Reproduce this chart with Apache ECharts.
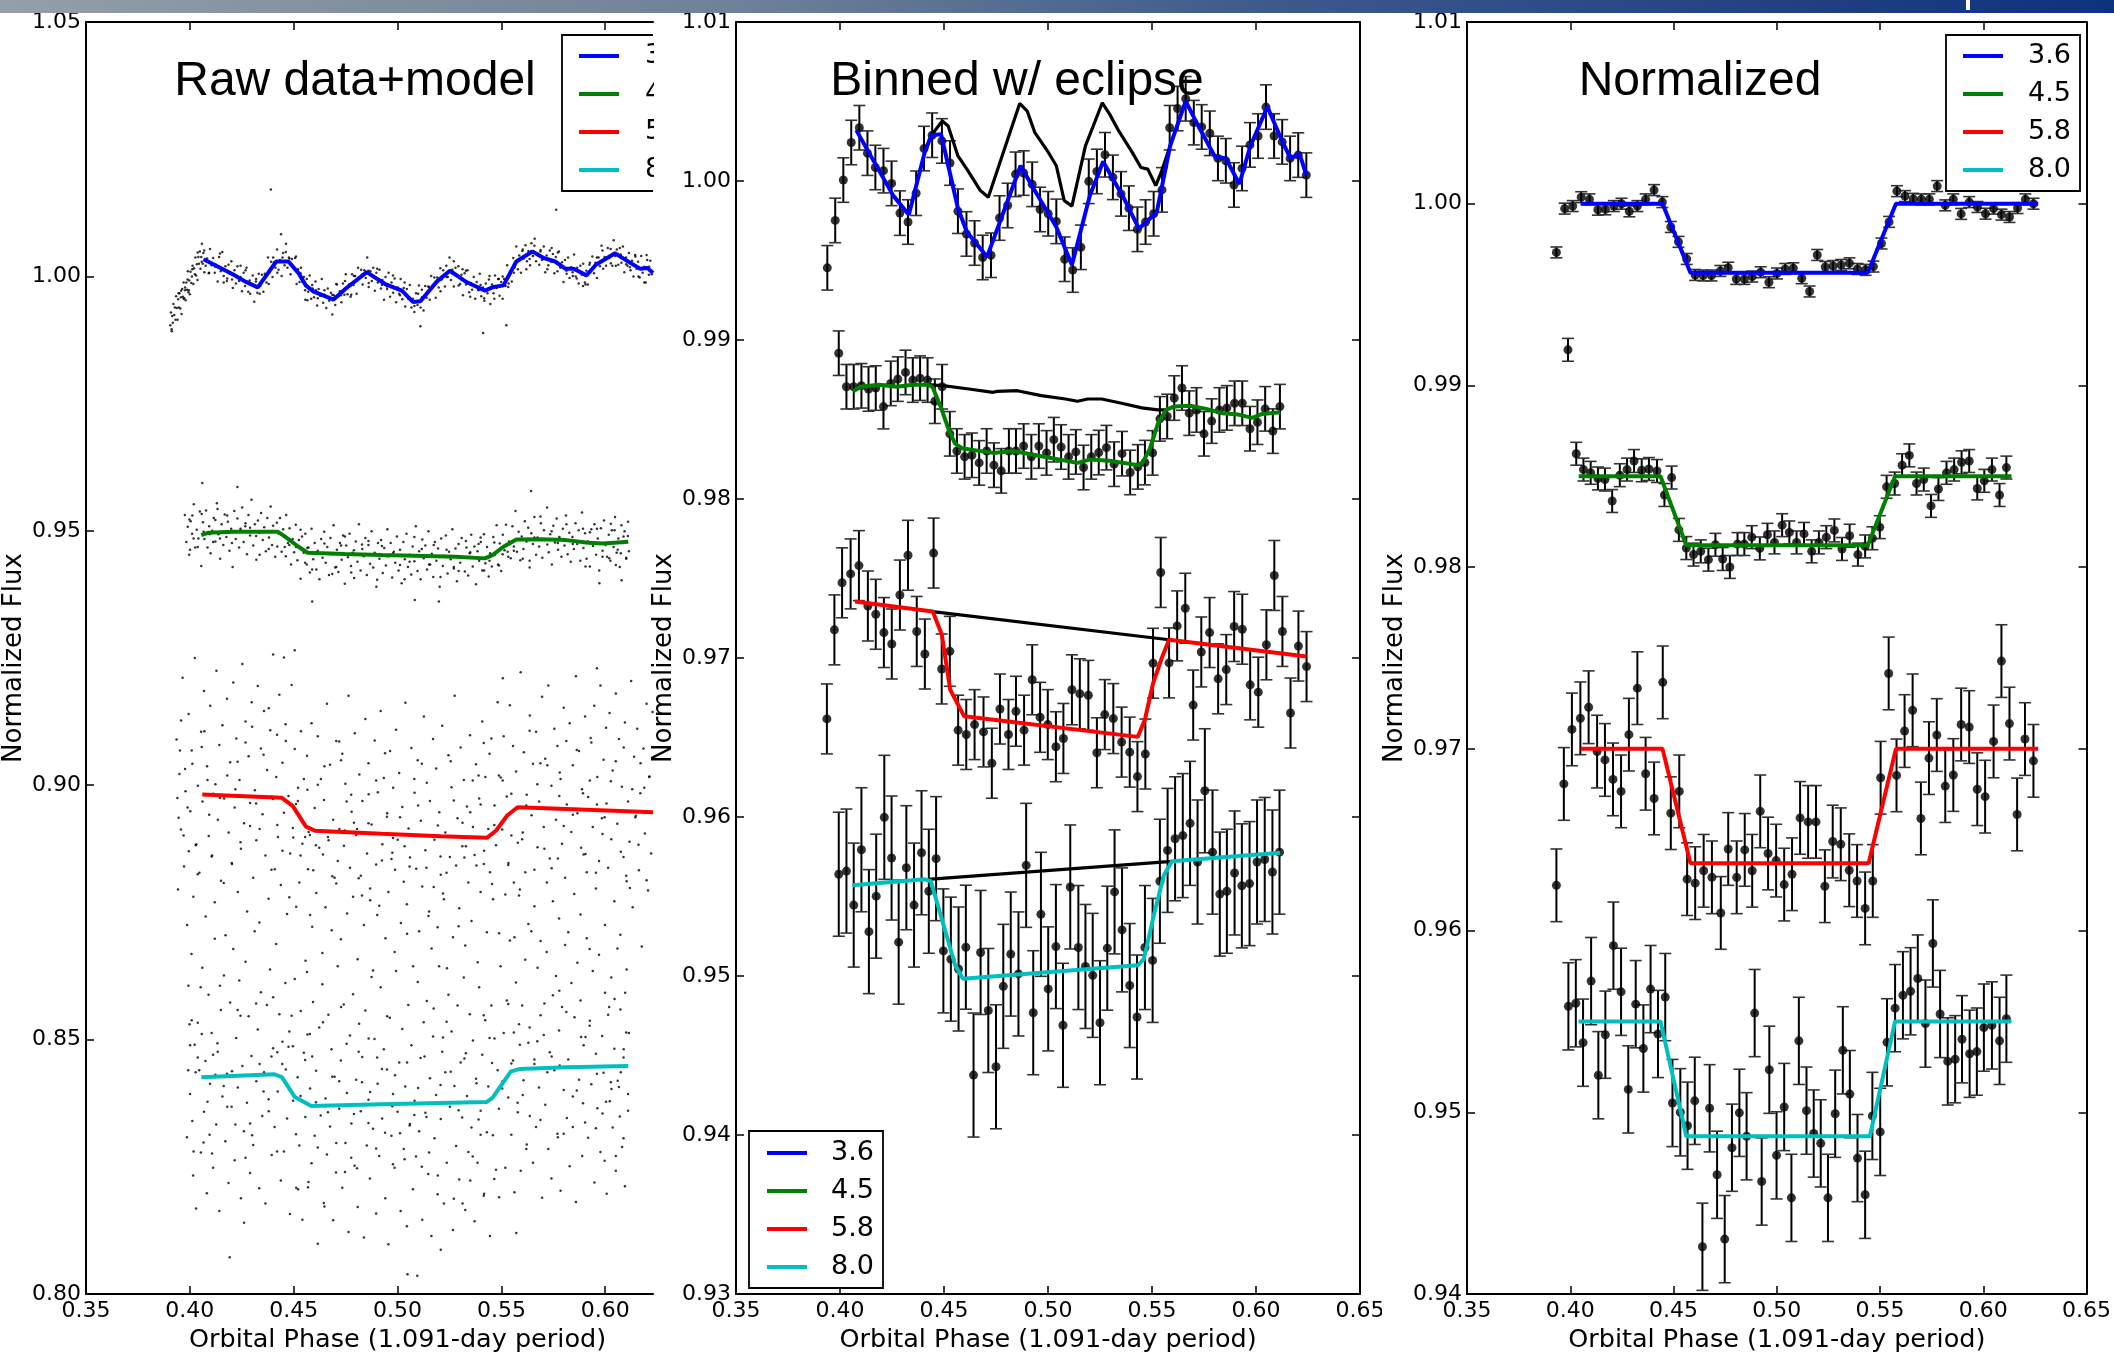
<!DOCTYPE html>
<html><head><meta charset="utf-8">
<script src="https://cdn.jsdelivr.net/npm/echarts@6/dist/echarts.min.js"></script>
<style>html,body{margin:0;padding:0;background:#fff}#c{width:2114px;height:1358px}</style>
</head><body><div id="c"></div>
<script>
// ---------- tick labels ----------
const xTickVals = [0.35, 0.40, 0.45, 0.50, 0.55, 0.60, 0.65];
const yTicksRaw = [0.80, 0.85, 0.90, 0.95, 1.00, 1.05];
const yTicksBinned = [0.93, 0.94, 0.95, 0.96, 0.97, 0.98, 0.99, 1.00, 1.01];
const yTicksNorm = [0.94, 0.95, 0.96, 0.97, 0.98, 0.99, 1.00, 1.01];
const bandNames = ['3.6', '4.5', '5.8', '8.0'];
const titles = ['Raw data+model', 'Binned w/ eclipse', 'Normalized'];

// ---------- panel 1: raw photometry, pairs of (phase x1e4, flux x1e4) ----------
const raw36 = [3906,9904,3909,9929,3912,9896,3915,9922,3918,9909,3921,9946,3925,9924,3928,9939,3931,9915,3934,9961,3937,9938,3941,9915,3944,9955,3947,9939,3950,9967,3954,9937,3957,9959,3960,9926,3963,9975,3967,9960,3970,9988,3973,9957,3977,9978,3980,9953,3983,9988,3987,9974,3990,10010,3993,9969,3997,9992,4000,9965,4003,10009,4007,9987,4010,10000,4013,10021,4017,9985,4020,10016,4024,10004,4027,10037,4030,10002,4034,10024,4037,9993,4041,10038,4044,10025,4048,10049,4051,10015,4055,10038,4058,10064,4062,10025,4065,10046,
4069,10051,4076,10021,4083,10035,4091,10006,4097,10054,4105,10022,4112,10036,4120,10007,4126,10023,4134,9990,4141,10038,4149,10010,4156,10048,4163,10001,4171,10020,4178,9991,4186,10023,4192,10005,4200,10030,4207,9977,4215,10012,4222,9986,4229,10020,4237,9991,4244,9999,4251,9971,4259,10007,4266,9981,4273,10017,4281,9970,4288,9992,4296,9984,4303,10002,4310,9950,4318,9990,4325,9968,4332,10005,4339,9981,4347,10003,4354,9970,4361,10005,4369,9988,4376,10037,4383,10008,4391,10029,4398,9999,4405,10028,4412,10017,4420,10053,4427,10013,4434,10032,4442,10001,4449,10046,4456,10022,4463,10064,4470,10017,4477,10037,4485,10004,4492,10034,4499,10016,4507,10036,4514,9985,4521,10014,4528,9989,4535,10017,4542,9989,4549,9999,4556,9954,4563,9995,4570,9970,4577,10002,4584,9956,4591,9976,4598,9959,4605,9990,4613,9943,4620,9975,4627,9962,4635,9995,4642,9948,4649,9964,4657,9938,4664,9976,4671,9952,4679,9968,4686,9925,4693,9963,4700,9944,4708,9984,4715,9961,4722,9971,4730,9949,4737,9986,4744,9964,4751,10004,4759,9965,4766,9984,4774,9960,4781,10004,4788,9983,4796,10001,4803,9966,4810,10017,4818,9997,4825,10013,4832,9984,4840,10012,4847,9997,4854,10037,4861,9987,4869,10010,4876,9991,4883,10017,4891,9972,4898,10007,4905,9988,4913,10013,4920,9976,4927,9993,4935,9954,4942,9999,4949,9980,4957,10007,4964,9960,4971,9988,4979,9968,4986,9996,4993,9949,5001,9978,5008,9966,5015,9995,5023,9955,5030,9977,5037,9941,5045,9975,5052,9956,5059,9983,5067,9939,5074,9956,5081,9930,5089,9967,5096,9944,5103,9982,5111,9939,5118,9959,5125,9933,5133,9981,5140,9958,5147,9980,5155,9954,5162,10001,5169,9978,5177,9998,5184,9958,5191,9998,5198,9978,5206,10016,5213,9994,5220,10012,5228,9980,5235,10021,5242,9999,5250,10037,5257,9993,5264,10013,5271,9980,5279,10017,5286,10001,5293,10020,5301,9985,5308,10003,5315,9963,5323,10006,5330,9984,5337,10012,5345,9969,5352,9987,5359,9974,5367,9999,5374,9956,5381,9989,5389,9974,5396,10005,5403,9961,5411,9978,5418,9952,5425,9986,5433,9967,5440,9994,5447,9946,5455,9984,5462,9967,5469,10002,5477,9977,5484,9995,5491,9962,5499,9989,5506,9956,5513,9995,5520,9981,5528,10022,5535,9986,5542,10010,5550,9990,5557,10036,5564,10018,5572,10059,5579,10014,5586,10041,5594,10007,5601,10050,5608,10035,5616,10061,5623,10030,5630,10050,5638,10022,5645,10065,5652,10040,5660,10074,5667,10030,5674,10045,5682,10023,5689,10052,5696,10032,5704,10059,5711,10008,5718,10041,5726,10022,5733,10051,5740,10029,5748,10044,5755,10006,5762,10038,5770,10010,5777,10049,5784,10017,5792,10028,5799,9989,5806,10032,5814,10005,5821,10037,5828,9997,5836,10018,5843,10008,5850,10043,5858,10000,5865,10017,5872,9986,5880,10021,5887,10003,5894,10025,5902,9988,5909,10011,5916,9984,5924,10023,5931,10010,5938,10039,5946,10006,5953,10027,5960,9997,5968,10037,5975,10020,5982,10060,5990,10015,5997,10038,6004,10021,6012,10056,6019,10036,6026,10054,6034,10021,6041,10071,6048,10040,6056,10053,6063,10023,6070,10056,6078,10027,6085,10059,6092,10008,6100,10037,6107,10021,6114,10046,6122,10012,6129,10031,6136,10000,6144,10042,6151,10015,6158,10029,6166,9998,6173,10040,6180,10007,6188,10019,6195,9988,6202,10032,6210,10003,6217,10031,6224,10004,
4390,10171,5764,10131,5412,9889,5110,9902,4439,10083,5524,9904,3913,9892];
const raw36b = [4012,10014,5533,9979,4790,10001,6101,10024,4268,10012,5207,9971,3958,9972,5844,10001,4533,10006,5012,9963,4421,10007,5688,10049,4145,10045,5390,9973,4902,10015,6188,9988,4607,9973,5271,10030,3995,9973,5960,10037,5117,9974,4336,9966,5779,10025,4705,9985,6027,10026,4479,10035,5466,9956,4057,10029,5603,10053,4861,9979,4203,9994,5329,10011,3977,9973,5905,9984,4648,9973,5058,9955,6145,10039,4380,9985,5742,10056,4950,9975,5488,9995,4093,10007,5152,9979,4566,9953,6075,10043,4747,9991,5636,10034,4244,10021,5417,9957,4829,10003,5893,9981,4462,10048,5236,9999,3946,9967,5721,10014,4589,9983,6212,10019,4978,10002,5560,10007,4123,10019,4319,9995,5081,9942,5987,10051,4686,9964,5350,9960,4038,10047,5813,10011,4511,10039,6160,10000,5174,9982,4777,9964,5659,10060,4180,9996,5443,10001,4925,9983,6051,10021,4401,10037,5294,9982,3970,9956,5926,10027,4555,9973,5400,9983,4070,10008,5772,10047,4860,10011,6119,10018,4290,9966,5506,10000,4728,9963,5034,9988,5620,10014,4446,10037,5099,9966,3989,9994,5863,9996,4616,9957,6199,10042,4988,9976,5313,10014,4163,9988];

const raw45 = [3976,9531,3983,9478,3990,9508,3997,9453,4004,9519,4011,9494,4019,9552,4026,9467,4033,9502,4041,9485,4048,9538,4055,9431,4063,9517,4070,9484,4078,9540,4085,9467,4093,9509,4100,9456,4108,9500,4115,9525,4123,9479,4130,9554,4138,9493,4146,9445,4153,9513,4161,9472,4168,9532,4176,9488,4183,9518,4191,9461,4199,9504,4206,9429,4214,9539,4221,9484,4229,9524,4237,9467,4244,9501,4252,9546,4259,9478,4267,9509,4275,9454,4282,9531,4290,9491,4297,9561,4305,9471,4313,9513,4320,9443,4328,9520,4335,9496,4343,9535,4351,9482,4358,9507,4366,9460,4373,9525,4381,9487,4389,9548,4396,9472,4404,9499,4411,9449,4419,9516,4427,9494,4434,9525,4442,9459,4449,9503,4457,9468,4464,9531,4472,9476,4480,9505,4487,9434,4495,9484,4502,9458,4510,9512,4518,9442,4525,9482,4533,9406,4540,9489,4548,9457,4556,9494,4563,9434,4571,9467,4578,9418,4586,9504,4594,9444,4601,9476,4609,9424,4616,9461,4624,9405,4632,9484,4639,9447,4647,9498,4654,9437,4662,9468,4670,9413,4677,9486,4685,9454,4692,9511,4700,9428,4708,9463,4715,9419,4723,9476,4731,9443,4738,9491,4746,9396,4753,9471,4761,9448,4769,9494,4776,9431,4784,9457,4791,9407,4799,9479,4807,9439,4814,9513,4822,9422,4830,9464,4837,9450,4845,9486,4852,9413,4860,9472,4868,9435,4875,9499,4883,9428,4890,9457,4898,9390,4906,9476,4913,9445,4921,9482,4929,9417,4936,9466,4944,9432,4951,9503,4959,9450,4967,9476,4974,9408,4982,9459,4989,9437,4997,9489,5005,9422,5012,9463,5020,9397,5028,9478,5035,9444,5043,9494,5050,9429,5058,9453,5066,9414,5073,9469,5081,9440,5088,9509,5096,9421,5104,9460,5111,9405,5119,9483,5126,9446,5134,9471,5142,9424,5149,9499,5157,9434,5165,9455,5172,9409,5180,9478,5187,9441,5195,9465,5203,9390,5210,9485,5218,9431,5225,9451,5233,9491,5241,9416,5248,9459,5256,9444,5264,9503,5271,9426,5279,9465,5286,9401,5294,9474,5302,9437,5309,9486,5317,9448,5324,9420,5332,9467,5340,9412,5347,9456,5355,9492,5362,9430,5370,9469,5378,9395,5385,9460,5393,9441,5401,9478,5408,9422,5416,9493,5423,9436,5431,9468,5439,9410,5446,9456,5454,9430,5461,9488,5469,9453,5477,9511,5484,9434,5492,9475,5499,9421,5507,9492,5515,9462,5522,9512,5530,9459,5537,9479,5545,9446,5553,9509,5560,9469,5568,9539,5575,9459,5583,9498,5591,9442,5598,9489,5606,9464,5613,9519,5621,9479,5629,9506,5636,9428,5644,9495,5652,9474,5659,9527,5667,9453,5674,9487,5682,9469,5690,9515,5697,9447,5705,9501,5712,9482,5720,9546,5728,9458,5735,9493,5743,9434,5750,9510,5758,9477,5766,9524,5773,9463,5781,9485,5789,9449,5796,9504,5804,9471,5811,9530,5819,9454,5827,9496,5834,9439,5842,9488,5849,9464,5857,9515,5865,9474,5872,9501,5880,9441,5888,9536,5895,9466,5903,9495,5910,9445,5918,9479,5926,9430,5933,9503,5941,9470,5948,9513,5956,9453,5964,9485,5971,9422,5979,9505,5987,9461,5994,9520,6002,9472,6009,9449,6017,9492,6025,9441,6032,9501,6040,9468,6047,9527,6055,9457,6063,9485,6070,9429,6078,9511,6086,9476,6093,9499,6101,9447,6109,9490,6114,9460,
4060,9594,4589,9361,5199,9361,5643,9578,4229,9586,6079,9403,5972,9397,5083,9364];
const raw45b = [4012,9530,5533,9449,4790,9462,6101,9445,4268,9515,5207,9409,3998,9522,5844,9474,4533,9502,5012,9433,4421,9469,5688,9528,4145,9485,5390,9474,4902,9404,6088,9489,4607,9458,5271,9429,4001,9463,5960,9504,5117,9464,4336,9453,5779,9488,4705,9429,6027,9514,4479,9472,5466,9477,4057,9533,5603,9445,4861,9454,4203,9476,5329,9480,4095,9493,5905,9430,4648,9475,5058,9439,6045,9501,4380,9464,5742,9499,4950,9450,5488,9432,4133,9543,5152,9434,4566,9466,6075,9456,4747,9489,5636,9441,4244,9504,5417,9422,4829,9473,5893,9504,4462,9450,5236,9463,4018,9485,5721,9473,4589,9424,6110,9518,4978,9456,5560,9461,4123,9521,4319,9490,5081,9488,5987,9449,4686,9415,5350,9458,4038,9468,5813,9513,4511,9468,6060,9463,5174,9472,4777,9418,5659,9487,4180,9530,5443,9441,4925,9470,6051,9433,4401,9510,5294,9421,4066,9498,5926,9497,4555,9437,5400,9487,4112,9478,5772,9476,4860,9480,6019,9446,4290,9506,5506,9454,4728,9471,5034,9405];

const raw58 = [3936,9090,3943,8795,3950,9022,3957,8913,3965,9211,3972,8840,3979,8988,3987,8725,3994,9140,4002,8949,4009,9068,4017,8781,4024,9250,4031,8884,4039,8999,4046,8828,4054,9105,4061,8968,4068,9185,4076,8742,4083,9037,4091,8900,4098,9156,4105,8860,4113,8983,4120,8770,4128,9225,4135,8932,4142,9079,4150,8812,4157,9118,4165,8974,4172,8705,4179,9170,4187,8907,4194,9045,4202,8847,4209,9202,4216,8956,4224,9092,4231,8790,4239,9010,4246,8875,4253,9238,4261,8925,4268,9125,4276,8752,4283,9057,4290,8965,4298,9163,4305,8818,4313,8990,4320,8892,4327,9195,4335,8730,4342,9072,4350,8943,4357,9146,4364,8862,4372,9030,4379,8777,4387,9108,4394,8978,4401,9257,4409,8835,4416,9016,4424,8898,4431,9178,4438,8804,4446,9044,4453,8946,4461,9120,4468,8747,4475,8979,4483,8866,4490,9197,4498,8897,4505,9071,4512,8761,4520,8969,4527,8809,4535,9106,4542,8885,4549,9012,4557,8655,4564,9058,4572,8908,4579,8745,4586,9122,4594,8833,4601,8955,4609,8788,4616,9096,4623,8877,4631,9012,4638,8670,4646,8971,4653,8760,4660,9160,4668,8892,4675,9040,4683,8715,4690,8932,4697,8818,4705,9087,4712,8851,4720,8914,4727,8697,4734,9062,4742,8881,4749,9003,4757,8748,4764,9176,4771,8838,4779,8948,4786,8781,4794,9102,4801,8902,4808,8658,4816,9021,4823,8822,4831,8969,4838,8725,4845,9130,4853,8866,4860,9043,4868,8797,4875,8923,4882,8636,4890,9088,4897,8844,4905,8986,4912,8763,4919,9146,4927,8884,4934,9014,4942,8699,4949,8938,4956,8790,4964,9067,4971,8855,4979,8995,4986,8672,4993,9109,5001,8893,5008,9024,5016,8729,5023,8957,5030,8810,5038,9162,5045,8766,5053,8915,5060,8858,5067,9073,5075,8644,5082,8985,5090,8836,5097,9049,5104,8713,5112,8930,5119,8801,5127,9135,5134,8872,5141,9005,5149,8743,5156,8969,5164,8679,5171,9091,5178,8893,5186,9033,5193,8721,5201,8947,5208,8824,5215,9117,5223,8776,5230,8907,5238,8640,5245,9059,5252,8859,5260,8996,5267,8701,5275,9176,5282,8842,5289,8935,5297,8758,5304,9074,5312,8880,5319,9010,5326,8685,5334,8958,5341,8809,5349,9098,5356,8733,5363,8918,5371,8863,5378,9041,5386,8652,5393,8974,5400,8790,5408,9125,5415,8845,5423,9016,5430,8711,5437,8914,5445,8829,5452,9092,5460,8776,5467,8960,5474,8882,5482,9163,5489,8709,5497,9015,5504,8913,5511,9096,5519,8785,5526,8978,5534,8847,5541,9157,5548,8901,5556,9077,5563,8701,5571,9027,5578,8954,5585,8783,5593,9222,5600,8894,5608,9065,5615,8829,5622,8981,5630,8727,5637,9137,5645,8941,5652,9042,5659,8762,5667,9105,5674,8878,5682,8968,5689,8694,5696,9174,5704,8918,5711,9052,5719,8809,5726,9196,5733,8856,5741,8999,5748,8772,5755,9111,5763,8932,5770,9077,5778,8738,5785,9012,5792,8885,5800,9152,5807,8818,5815,8962,5822,8711,5829,9122,5837,8908,5844,9039,5851,8786,5859,9214,5866,8945,5874,9067,5881,8746,5888,8992,5896,8864,5903,9135,5911,8829,5918,8977,5925,8678,5933,9084,5940,8918,5947,9156,5955,8797,5962,9016,5970,8851,5977,9196,5984,8935,5992,9050,5999,8725,6006,8964,6014,8838,6021,9142,6029,8894,6036,9029,6044,8772,6051,9180,6058,8924,6066,9091,6073,8706,6080,8997,6088,8859,6095,9123,6103,8811,6110,8968,6117,8889,6125,9205,6132,8760,6139,9056,6147,8940,6154,9111,6162,8833,6169,8984,6176,8683,6184,9072,6191,8905,6199,9160,6206,8793,6213,9017,6221,8866,6228,9144,
4453,9251,4505,9265,5507,9210,5960,9230];
const raw58b = [4012,9042,5533,8843,4790,8926,6101,8822,4268,9084,5207,8860,3958,9127,5844,8942,4533,8862,5012,8937,4421,8922,5688,9043,4145,8975,5390,9019,4902,8745,6188,8995,4607,8882,5271,8970,3995,8870,5960,8962,5117,9042,4336,8914,5779,8979,4705,8807,6027,9008,4479,8780,5466,8922,4057,9075,5603,8907,4861,8982,4203,8845,5329,8880,3977,9032,5905,8865,4648,9037,5058,8840,6145,8937,4380,9151,5742,8837,4950,8945,5488,9019,4093,8942,5152,8752,4566,8991,6075,8869,4747,8911,5636,9107,4244,8888,5417,8871,4829,8783,5893,8984,4462,9087,5236,8828,3946,8936,5721,9039,4589,8722,6212,9016,4978,8896,5560,8809,4123,9002,4319,8964,5081,9012,5987,8904,4686,8821,5350,8947,4038,8825,5813,9087,4511,8963,6160,8883,5174,8800,4777,8981,5659,8834,4180,9019,5443,9062,4925,8852,6051,9047,4401,8973,5294,8723,3970,8901,5926,9009,4555,8898,5400,8962,4070,9106,5772,8856,4860,8925,6119,8798,4290,8920,5506,9009,4728,9049,5034,8880,5620,8960,4446,8871,5099,8960,3989,8956,5863,9069,4616,9001,6199,8813,4988,8834,5313,8926,4163,8808,5256,9047,4641,8864,5955,8828,4355,9060,5548,8983,4813,8817,6004,9113,4107,8862,5380,8842,4897,9009,5707,8875,4219,8992,5046,8708,4521,8995,6089,9074,4665,8898,5455,8806,3952,9068,5800,8920,4940,9063,4393,8834,5194,8921,4755,8968,5579,8887,4028,8882,5930,9093,4578,8902,5362,9009,4868,8774,6130,8992,5139,8838,4300,9115,5673,9002,4496,8916,5997,8937,4719,9086,5219,8787,4085,9010,5781,9025,4569,8835,5415,9083,4975,8867,6170,9043,4230,9046,5589,8795,4805,8914,5322,8858,3940,8975,5884,8877,4420,9099];

const raw80 = [3986,8308,3993,8606,4001,8393,4008,8668,4016,8233,4023,8490,4030,8168,4038,8533,4045,8440,4053,8278,4060,8641,4068,8358,4075,8458,4082,8198,4090,8588,4097,8413,4105,8513,4112,8248,4120,8698,4127,8333,4134,8476,4142,8163,4149,8558,4157,8388,4164,8626,4171,8300,4179,8433,4186,8218,4194,8573,4201,8368,4209,8678,4216,8263,4223,8503,4231,8406,4238,8616,4246,8188,4253,8448,4260,8320,4268,8653,4275,8376,4283,8546,4290,8238,4297,8468,4305,8293,4312,8713,4320,8418,4327,8520,4334,8208,4342,8593,4349,8350,4357,8436,4364,8178,4371,8568,4379,8383,4386,8638,4394,8273,4401,8483,4408,8328,4416,8688,4423,8398,4431,8550,4438,8223,4445,8452,4453,8280,4460,8611,4468,8345,4475,8486,4482,8157,4490,8547,4497,8380,4505,8619,4512,8209,4519,8426,4527,8292,4534,8556,4542,8146,4549,8474,4556,8348,4564,8633,4571,8220,4579,8404,4586,8257,4593,8574,4601,8311,4608,8439,4616,8099,4623,8524,4630,8351,4638,8609,4645,8179,4653,8384,4660,8274,4667,8549,4675,8329,4682,8481,4690,8145,4697,8427,4704,8239,4712,8644,4719,8364,4727,8459,4734,8209,4741,8569,4749,8297,4756,8395,4764,8122,4771,8508,4778,8335,4786,8589,4793,8252,4801,8421,4808,8171,4815,8531,4823,8359,4830,8466,4838,8111,4845,8557,4852,8292,4860,8382,4867,8227,4875,8623,4882,8325,4889,8501,4897,8158,4904,8413,4912,8271,4919,8603,4926,8345,4934,8481,4941,8188,4949,8441,4956,8098,4963,8543,4971,8311,4978,8393,4986,8248,4993,8635,5000,8358,5008,8455,5015,8163,5023,8521,5030,8285,5037,8408,5045,8133,5052,8568,5060,8334,5067,8489,5074,8206,5082,8380,5089,8270,5097,8613,5104,8320,5111,8464,5119,8146,5126,8534,5134,8356,5141,8576,5148,8236,5156,8424,5163,8114,5171,8506,5178,8306,5186,8391,5193,8196,5200,8644,5208,8344,5215,8476,5223,8178,5230,8436,5237,8258,5245,8588,5252,8368,5260,8516,5267,8126,5274,8409,5282,8291,5289,8567,5297,8225,5304,8455,5311,8347,5319,8622,5326,8165,5334,8389,5341,8279,5348,8550,5356,8327,5363,8498,5371,8143,5378,8423,5385,8258,5393,8603,5400,8360,5408,8470,5415,8193,5422,8538,5430,8318,5437,8408,5445,8114,5452,8567,5459,8312,5467,8502,5474,8244,5482,8440,5489,8190,5496,8644,5504,8404,5511,8513,5519,8248,5526,8577,5533,8386,5541,8695,5548,8313,5556,8459,5563,8200,5570,8612,5578,8376,5585,8530,5593,8242,5600,8567,5607,8420,5615,8657,5622,8294,5630,8494,5637,8350,5644,8713,5652,8258,5659,8452,5667,8328,5674,8641,5681,8406,5689,8548,5696,8189,5704,8509,5711,8372,5718,8672,5726,8285,5733,8475,5741,8227,5748,8587,5755,8440,5763,8625,5770,8315,5778,8518,5785,8203,5792,8564,5800,8401,5807,8686,5815,8346,5822,8461,5829,8251,5837,8611,5844,8388,5852,8544,5859,8181,5866,8651,5874,8421,5881,8577,5889,8271,5896,8489,5903,8337,5911,8699,5918,8307,5925,8527,5933,8412,5940,8635,5948,8219,5955,8472,5962,8365,5970,8667,5977,8279,5985,8507,5992,8435,5999,8592,6007,8197,6014,8549,6022,8379,6029,8622,6036,8327,6044,8482,6051,8242,6059,8679,6066,8407,6073,8559,6081,8289,6088,8465,6095,8212,6103,8638,6110,8360,6114,8513,
5048,8039,5095,8036,4192,8072,4261,8140,5208,8087,5572,8120];
const raw80b = [4012,8340,5533,8570,4790,8354,6101,8514,4268,8268,5207,8411,3998,8530,5844,8328,4533,8389,5012,8316,4421,8475,5688,8342,4145,8606,5390,8343,4902,8465,6088,8306,4607,8377,5271,8187,4001,8489,5960,8433,5117,8250,4336,8452,5779,8596,4705,8297,6027,8416,4479,8516,5466,8226,4057,8511,5603,8391,4861,8502,4203,8438,5329,8473,4095,8313,5905,8505,4648,8172,5058,8331,6045,8580,4380,8359,5742,8467,4950,8546,5488,8364,4133,8493,5152,8278,4566,8510,6075,8436,4747,8240,5636,8524,4244,8547,5417,8197,4829,8416,5893,8375,4462,8441,5236,8535,4018,8280,5721,8436,4589,8467,6110,8393,4978,8255,5560,8514,4123,8431,4319,8571,5081,8352,5987,8355,4686,8427,5350,8223,4038,8465,5813,8554,4511,8314,6060,8419,5174,8561,4777,8268,5659,8461,4180,8368,5443,8503,4925,8442,6051,8271,4401,8583,5294,8361,4066,8298,5926,8537,4555,8460,5400,8313,4112,8470,5772,8308,4860,8336,6019,8564,4290,8335,5506,8418,4728,8564,5034,8265,5620,8285,4446,8496,5099,8405,4009,8538,5863,8400,4616,8288,6096,8592,4988,8430,5313,8178,4163,8409,5256,8437,4641,8534,5955,8326,4355,8398,5548,8453,4813,8476,6004,8378,4107,8276,5380,8414,4897,8286,5707,8571,4219,8333,5046,8455,4521,8206,6089,8481,4665,8357,5455,8454,4052,8603,5800,8315,4940,8317,4393,8467,5194,8233,4755,8492,5579,8357,4028,8436,6030,8403,4578,8511,5362,8270,4868,8397,5130,8467,5139,8348,4300,8312,5673,8497,4496,8487,5997,8262,4719,8418,5219,8504,4085,8378,5781,8449,4569,8210,5415,8548,4975,8369,6070,8349,4230,8558,5589,8490,4805,8247,5322,8463,3992,8440,5884,8505,4420,8280];

// panel 1 models
const modelRaw36 = [[0.4066,1.00339],[0.4211,1.00033],[0.4265,0.99902],[0.4327,0.99785],[0.4416,1.00293],[0.4475,1.00293],[0.4523,1.00065],[0.4558,0.99824],[0.4594,0.99707],[0.4692,0.99544],[0.4754,0.99772],[0.4852,1.00085],[0.4896,0.99967],[0.4941,0.9985],[0.5021,0.9972],[0.5074,0.99498],[0.5110,0.99511],[0.5190,0.99902],[0.5252,1.00111],[0.5332,0.99889],[0.5421,0.9972],[0.5457,0.99785],[0.5510,0.99824],[0.5572,1.00293],[0.5649,1.00489],[0.5706,1.00359],[0.5759,1.00293],[0.5809,1.0015],[0.5848,1.0015],[0.5910,1.0002],[0.5955,1.00228],[0.6047,1.00456],[0.6115,1.0028],[0.6168,1.0015],[0.6204,1.00163],[0.6230,1.00065]];
const modelRaw45 = [[0.4055,0.94915],[0.4087,0.9496],[0.4211,0.9498],[0.4425,0.9498],[0.4460,0.94882],[0.4523,0.94686],[0.4567,0.94569],[0.4745,0.94543],[0.4923,0.94523],[0.5136,0.94504],[0.5279,0.94491],[0.5421,0.94458],[0.5457,0.94523],[0.5510,0.94686],[0.5572,0.9483],[0.5688,0.94836],[0.5812,0.94817],[0.5919,0.94764],[0.5990,0.94751],[0.6111,0.94784]];
const modelRaw58 = [[0.4060,0.89817],[0.4443,0.89752],[0.4496,0.8959],[0.4559,0.89185],[0.4603,0.89104],[0.4923,0.89047],[0.5208,0.88998],[0.5430,0.88966],[0.5474,0.89104],[0.5528,0.89404],[0.5578,0.89566],[0.5812,0.89533],[0.6230,0.89469]];
const modelRaw80 = [[0.4055,0.84262],[0.4407,0.84319],[0.4443,0.84262],[0.4505,0.83873],[0.4585,0.83694],[0.4923,0.83727],[0.5430,0.83775],[0.5457,0.83856],[0.5546,0.84376],[0.5590,0.84424],[0.5812,0.84457],[0.6111,0.84481]];

// ---------- panel 2: binned with eclipse ----------
const binned36 = [[0.3939,0.99454],[0.3977,0.99752],[0.4016,1.00006],[0.4054,1.00242],[0.4093,1.00335],[0.4132,1.00175],[0.4170,1.00085],[0.4209,1.00065],[0.4248,0.99985],[0.4288,0.99798],[0.4327,0.99742],[0.4366,0.99923],[0.4404,1.00204],[0.4443,1.00288],[0.4490,1.00252],[0.4529,1.00113],[0.4567,0.9981],[0.4608,0.99667],[0.4647,0.9961],[0.4686,0.99519],[0.4726,0.99533],[0.4767,0.99767],[0.4806,0.99846],[0.4844,1.00042],[0.4883,1.0005],[0.4924,0.99979],[0.4962,0.99821],[0.5001,0.99794],[0.5040,0.99746],[0.5080,0.99508],[0.5119,0.9944],[0.5158,0.99583],[0.5196,0.99998],[0.5235,1.0006],[0.5274,1.00165],[0.5312,1.00023],[0.5351,0.99919],[0.5389,0.99829],[0.5430,0.99696],[0.5469,0.99742],[0.5508,0.99794],[0.5548,0.99944],[0.5585,1.00335],[0.5623,1.00456],[0.5662,1.00517],[0.5701,1.00367],[0.5739,1.0034],[0.5778,1.003],[0.5817,1.00142],[0.5855,1.00127],[0.5894,0.99975],[0.5933,1.00079],[0.5971,1.00227],[0.6010,1.00283],[0.6048,1.00465],[0.6087,1.00283],[0.6126,1.00246],[0.6164,1.00142],[0.6203,1.00163],[0.6242,1.00037]];
const binned45 = [[0.3994,0.98917],[0.4031,0.98706],[0.4066,0.98706],[0.4103,0.98712],[0.4137,0.98692],[0.4172,0.98698],[0.4209,0.98581],[0.4244,0.98727],[0.4278,0.98754],[0.4315,0.98796],[0.4350,0.98748],[0.4385,0.9876],[0.4421,0.98748],[0.4456,0.98615],[0.4491,0.98706],[0.4528,0.9841],[0.4562,0.98302],[0.4599,0.98265],[0.4634,0.98275],[0.4669,0.98227],[0.4705,0.98302],[0.4740,0.98213],[0.4775,0.98177],[0.4812,0.98302],[0.4846,0.98302],[0.4883,0.98333],[0.4920,0.98265],[0.4956,0.98333],[0.4993,0.9829],[0.5028,0.98373],[0.5063,0.98327],[0.5099,0.98265],[0.5134,0.98296],[0.5171,0.98198],[0.5208,0.98265],[0.5244,0.98292],[0.5281,0.98323],[0.5318,0.98219],[0.5356,0.98285],[0.5395,0.98167],[0.5432,0.98202],[0.5466,0.98229],[0.5503,0.9829],[0.5538,0.98504],[0.5573,0.98519],[0.5607,0.98635],[0.5644,0.98698],[0.5679,0.9854],[0.5714,0.9856],[0.5750,0.9841],[0.5787,0.9849],[0.5824,0.9856],[0.5860,0.98573],[0.5897,0.98602],[0.5934,0.98602],[0.5971,0.98442],[0.6007,0.98483],[0.6044,0.98567],[0.6081,0.98427],[0.6115,0.98581]];
const binned58 = [[0.3937,0.96617],[0.3973,0.97177],[0.4010,0.97473],[0.4051,0.97529],[0.4091,0.97581],[0.4134,0.97327],[0.4172,0.97275],[0.4211,0.9716],[0.4249,0.97088],[0.4288,0.97396],[0.4327,0.97646],[0.4369,0.97167],[0.4408,0.97025],[0.4450,0.9766],[0.4489,0.96931],[0.4528,0.97042],[0.4568,0.96546],[0.4607,0.96519],[0.4647,0.96581],[0.4690,0.96535],[0.4730,0.96338],[0.4769,0.96679],[0.4810,0.96519],[0.4846,0.96665],[0.4885,0.96546],[0.4924,0.96863],[0.4962,0.96627],[0.4999,0.96581],[0.5038,0.96442],[0.5074,0.96494],[0.5115,0.968],[0.5153,0.96775],[0.5194,0.96765],[0.5235,0.96404],[0.5273,0.96644],[0.5314,0.96619],[0.5354,0.96471],[0.5393,0.96408],[0.5430,0.96254],[0.5468,0.96396],[0.5505,0.96967],[0.5542,0.97538],[0.5582,0.96969],[0.5621,0.97202],[0.5660,0.97313],[0.5698,0.96704],[0.5737,0.97038],[0.5777,0.9716],[0.5818,0.96869],[0.5857,0.96927],[0.5895,0.97198],[0.5934,0.97181],[0.5972,0.96831],[0.6011,0.96785],[0.6050,0.97083],[0.6088,0.97519],[0.6127,0.97167],[0.6166,0.96654],[0.6204,0.97075],[0.6243,0.96946]];
const binned80 = [[0.3994,0.9564],[0.4031,0.9566],[0.4066,0.95446],[0.4103,0.95794],[0.4139,0.95279],[0.4174,0.95502],[0.4213,0.95998],[0.4248,0.95742],[0.4282,0.95213],[0.4319,0.95681],[0.4356,0.95446],[0.4392,0.95775],[0.4427,0.95533],[0.4462,0.95738],[0.4497,0.95158],[0.4533,0.95106],[0.4570,0.95044],[0.4605,0.95181],[0.4642,0.94377],[0.4676,0.95148],[0.4713,0.94783],[0.4750,0.94429],[0.4785,0.94935],[0.4821,0.95138],[0.4858,0.95013],[0.4895,0.95696],[0.4929,0.94769],[0.4966,0.95388],[0.5001,0.94919],[0.5038,0.95185],[0.5072,0.9469],[0.5107,0.9556],[0.5146,0.95179],[0.5180,0.9506],[0.5215,0.95004],[0.5250,0.94706],[0.5285,0.95175],[0.5320,0.95529],[0.5356,0.9529],[0.5393,0.9494],[0.5428,0.94742],[0.5466,0.95179],[0.5503,0.95098],[0.5538,0.95596],[0.5575,0.9579],[0.5611,0.95863],[0.5648,0.95883],[0.5683,0.9596],[0.5719,0.95717],[0.5754,0.96165],[0.5791,0.95779],[0.5826,0.95515],[0.5860,0.95533],[0.5897,0.95648],[0.5932,0.95567],[0.5969,0.95581],[0.6005,0.95717],[0.6042,0.95733],[0.6079,0.95654],[0.6113,0.95779]];
const binnedErr = [0.0014, 0.0014, 0.0022, 0.0039];

const modelBin36 = [[0.4078,1.0032],[0.4256,0.99908],[0.4331,0.99788],[0.4407,1.00179],[0.4439,1.00288],[0.4486,1.00294],[0.4567,0.99829],[0.4610,0.99679],[0.4707,0.99523],[0.4868,1.00096],[0.4932,0.9995],[0.5040,0.9971],[0.5115,0.99471],[0.5201,0.99908],[0.5265,1.00123],[0.5362,0.99898],[0.5437,0.997],[0.5523,0.99804],[0.5587,1.0022],[0.5662,1.00502],[0.5716,1.00363],[0.5802,1.00154],[0.5855,1.00142],[0.5920,0.99981],[0.5973,1.0022],[0.6055,1.00467],[0.6123,1.00258],[0.6166,1.00142],[0.6209,1.00173],[0.6242,1.00037]];
const noEcl36 = [[0.4439,1.00288],[0.4492,1.00377],[0.4520,1.00346],[0.4567,1.00158],[0.4610,1.00075],[0.4675,0.9994],[0.4713,0.99898],[0.4864,1.00488],[0.4900,1.0044],[0.4937,1.00304],[0.4997,1.0019],[0.5040,1.00096],[0.5078,0.99877],[0.5115,0.99842],[0.5180,1.00221],[0.5233,1.00398],[0.5261,1.00492],[0.5297,1.00419],[0.5340,1.00315],[0.5405,1.0018],[0.5447,1.00085],[0.5480,1.00075],[0.5518,0.99971],[0.5544,1.00054],[0.5587,1.0022]];
const modelBin45 = [[0.4064,0.98677],[0.4099,0.98706],[0.4186,0.98719],[0.4273,0.98706],[0.4350,0.98719],[0.4423,0.98719],[0.4446,0.98702],[0.4485,0.98577],[0.4524,0.98431],[0.4553,0.98348],[0.4591,0.98317],[0.4736,0.9829],[0.4833,0.98302],[0.4968,0.98269],[0.5142,0.98227],[0.5200,0.98248],[0.5296,0.9824],[0.5432,0.98213],[0.5455,0.98229],[0.5490,0.98317],[0.5528,0.98473],[0.5567,0.9856],[0.5605,0.98581],[0.5683,0.98587],[0.5760,0.98567],[0.5837,0.9854],[0.5915,0.98531],[0.5982,0.9851],[0.6030,0.98535],[0.6117,0.98546]];
const noEcl45 = [[0.4423,0.98719],[0.4504,0.98712],[0.4620,0.98692],[0.4736,0.98671],[0.4756,0.98677],[0.4852,0.98681],[0.4968,0.9865],[0.5084,0.98629],[0.5142,0.98615],[0.5190,0.98629],[0.5258,0.98629],[0.5354,0.98602],[0.5451,0.98573],[0.5528,0.9856],[0.5567,0.9856]];
const modelBin58 = [[0.4072,0.97356],[0.4446,0.97292],[0.4489,0.9715],[0.4530,0.9680],[0.4597,0.96633],[0.5432,0.96504],[0.5466,0.96613],[0.5505,0.9684],[0.5547,0.9700],[0.5582,0.97115],[0.6243,0.9701]];
const noEcl58 = [[0.4446,0.97292],[0.5582,0.97115]];
const modelBin80 = [[0.4060,0.95571],[0.4408,0.95608],[0.4437,0.95596],[0.4553,0.95071],[0.4591,0.94983],[0.5432,0.95067],[0.5461,0.95108],[0.5509,0.95383],[0.5557,0.95633],[0.5596,0.95721],[0.6117,0.95775]];
const noEcl80 = [[0.4423,0.95608],[0.5596,0.95721]];

// ---------- panel 3: normalized ----------
const norm36 = [[0.3933,0.99732],[0.3973,0.99973],[0.4012,0.99987],[0.4053,1.00036],[0.4093,1.00024],[0.4134,0.99967],[0.4170,0.99969],[0.4211,0.99987],[0.4248,1.0],[0.4286,0.99958],[0.4325,0.99987],[0.4365,1.00024],[0.4406,1.00075],[0.4446,1.00009],[0.4487,0.99872],[0.4524,0.9979],[0.4564,0.99696],[0.4605,0.99608],[0.4644,0.99605],[0.4684,0.99605],[0.4727,0.9963],[0.4765,0.99648],[0.4804,0.99586],[0.4843,0.99586],[0.4881,0.99599],[0.4922,0.99623],[0.4962,0.99568],[0.5001,0.99616],[0.5041,0.99641],[0.5080,0.99645],[0.5121,0.9959],[0.5159,0.99517],[0.5196,0.99718],[0.5235,0.99652],[0.5273,0.99657],[0.5312,0.99663],[0.5352,0.99672],[0.5391,0.99641],[0.5430,0.99636],[0.5468,0.99654],[0.5507,0.99781],[0.5544,0.999],[0.5582,1.00069],[0.5621,1.00042],[0.5661,1.00027],[0.5700,1.00024],[0.5739,1.00024],[0.5777,1.00097],[0.5816,0.99991],[0.5855,1.00024],[0.5893,0.99944],[0.5932,1.00009],[0.5972,0.99982],[0.6011,0.99945],[0.6050,0.99973],[0.6088,0.9994],[0.6127,0.99927],[0.6166,0.99976],[0.6204,1.00024],[0.6243,1.0]];
const norm45 = [[0.3989,0.99196],[0.4029,0.98624],[0.4064,0.98537],[0.4099,0.98519],[0.4134,0.98488],[0.4168,0.98482],[0.4203,0.98364],[0.4240,0.98506],[0.4275,0.98537],[0.4309,0.98584],[0.4346,0.98533],[0.4381,0.9854],[0.4420,0.98529],[0.4456,0.98397],[0.4491,0.98493],[0.4526,0.98205],[0.4562,0.98105],[0.4597,0.98069],[0.4632,0.98087],[0.4669,0.98041],[0.4703,0.98123],[0.4738,0.98045],[0.4773,0.98001],[0.4810,0.98127],[0.4843,0.98127],[0.4879,0.98165],[0.4918,0.98103],[0.4955,0.98178],[0.4989,0.98136],[0.5026,0.98231],[0.5061,0.98191],[0.5096,0.98136],[0.5132,0.98183],[0.5169,0.98087],[0.5204,0.98136],[0.5240,0.98165],[0.5279,0.98202],[0.5316,0.981],[0.5353,0.98173],[0.5393,0.98069],[0.5428,0.98114],[0.5463,0.98159],[0.5499,0.9822],[0.5532,0.98442],[0.5571,0.9846],[0.5607,0.98561],[0.5642,0.98615],[0.5677,0.9846],[0.5712,0.98482],[0.5747,0.98337],[0.5783,0.9843],[0.5822,0.98519],[0.5859,0.98537],[0.5895,0.98577],[0.5932,0.98584],[0.5971,0.98433],[0.6005,0.98475],[0.6042,0.98537],[0.6079,0.98397],[0.6112,0.98548]];
const norm58 = [[0.3933,0.96249],[0.3969,0.96807],[0.4008,0.97107],[0.4049,0.97168],[0.4089,0.97229],[0.4130,0.96985],[0.4168,0.96939],[0.4207,0.96832],[0.4246,0.96766],[0.4284,0.97078],[0.4325,0.97334],[0.4365,0.96863],[0.4406,0.96727],[0.4448,0.97366],[0.4487,0.96646],[0.4528,0.96766],[0.4566,0.96283],[0.4605,0.96261],[0.4646,0.96329],[0.4686,0.96293],[0.4729,0.96097],[0.4765,0.96449],[0.4806,0.96293],[0.4845,0.96444],[0.4881,0.96329],[0.4920,0.96656],[0.4958,0.96424],[0.4997,0.96385],[0.5036,0.96253],[0.5074,0.9631],[0.5113,0.9662],[0.5152,0.96598],[0.5190,0.96598],[0.5233,0.96244],[0.5271,0.9649],[0.5310,0.96475],[0.5351,0.96332],[0.5389,0.96273],[0.5428,0.96122],[0.5465,0.96273],[0.5503,0.96841],[0.5542,0.97415],[0.5580,0.96854],[0.5619,0.97098],[0.5658,0.97212],[0.5698,0.96617],[0.5737,0.96949],[0.5775,0.97076],[0.5816,0.96795],[0.5855,0.96856],[0.5893,0.97134],[0.5932,0.9712],[0.5971,0.96778],[0.6009,0.96737],[0.6050,0.97041],[0.6088,0.97483],[0.6127,0.97139],[0.6164,0.96639],[0.6202,0.97054],[0.6243,0.96934]];
const norm80 = [[0.3991,0.95583],[0.4027,0.956],[0.4062,0.95383],[0.4101,0.95722],[0.4136,0.95204],[0.4170,0.95427],[0.4209,0.95917],[0.4246,0.95663],[0.4281,0.95126],[0.4317,0.95595],[0.4354,0.95351],[0.4389,0.95678],[0.4425,0.95431],[0.4460,0.95634],[0.4495,0.95051],[0.4533,0.95],[0.4568,0.94926],[0.4603,0.95063],[0.4640,0.9426],[0.4675,0.95022],[0.4711,0.94656],[0.4748,0.94302],[0.4783,0.94805],[0.4819,0.94997],[0.4854,0.94868],[0.4893,0.95546],[0.4927,0.94619],[0.4964,0.95234],[0.4999,0.94763],[0.5036,0.95029],[0.5071,0.94529],[0.5107,0.95393],[0.5144,0.95009],[0.5179,0.94883],[0.5213,0.94829],[0.5248,0.94529],[0.5283,0.94992],[0.5320,0.95341],[0.5354,0.951],[0.5391,0.94748],[0.5428,0.94546],[0.5463,0.9498],[0.5501,0.94892],[0.5534,0.95385],[0.5573,0.95573],[0.5611,0.95644],[0.5648,0.95666],[0.5683,0.95736],[0.5720,0.95488],[0.5756,0.95929],[0.5791,0.95541],[0.5828,0.9528],[0.5864,0.95292],[0.5897,0.95402],[0.5934,0.95322],[0.5969,0.95334],[0.6003,0.95466],[0.6042,0.95478],[0.6079,0.95393],[0.6112,0.95515]];
const normErr = [0.0003, 0.00063, 0.0020, 0.0024];
const modelNorm36 = [[0.4050,1.0000],[0.4447,1.0000],[0.4582,0.9962],[0.5441,0.9962],[0.5577,1.0000],[0.6266,1.0000]];
const modelNorm45 = [[0.4041,0.9850],[0.4437,0.9850],[0.4562,0.9812],[0.5441,0.9812],[0.5573,0.9850],[0.6137,0.9850]];
const modelNorm58 = [[0.4050,0.9700],[0.4447,0.9700],[0.4582,0.9637],[0.5445,0.9637],[0.5577,0.9700],[0.6266,0.9700]];
const modelNorm80 = [[0.4040,0.9550],[0.4437,0.9550],[0.4562,0.94868],[0.5451,0.94868],[0.5573,0.9550],[0.6137,0.9550]];

// ---------- build ----------
const COLORS = ['#0000ff', '#008000', '#ff0000', '#00bfbf'];
const TICKFONT = 'DejaVu Sans';
const toPts = f => { const o = []; for (let i = 0; i < f.length; i += 2) o.push([f[i] / 10000, f[i + 1] / 10000]); return o; };

function xAx(grid, max, pos, labels, namePad) {
  const vals = xTickVals.filter(v => v <= max + 1e-9);
  return {
    type: 'value', gridIndex: grid, min: 0.35, max: max, interval: 0.05, position: pos,
    axisLine: { show: true, onZero: false, lineStyle: { color: '#000', width: 2 } },
    axisTick: { show: true, inside: true, length: 8, customValues: vals, lineStyle: { color: '#000', width: 1.5 } },
    axisLabel: { show: labels, customValues: vals, formatter: v => v.toFixed(2), color: '#000', fontFamily: TICKFONT, fontSize: 22, margin: 6 },
    splitLine: { show: false },
    name: labels ? 'Orbital Phase (1.091-day period)' : '', nameLocation: 'middle', nameGap: 33,
    nameTextStyle: { color: '#000', fontFamily: TICKFONT, fontSize: 25.5, padding: namePad || 0 }
  };
}
function yAx(grid, ticks, pos, labels) {
  return {
    type: 'value', gridIndex: grid, min: ticks[0], max: ticks[ticks.length - 1], position: pos,
    interval: +(ticks[1] - ticks[0]).toFixed(3),
    axisLine: { show: true, onZero: false, lineStyle: { color: '#000', width: 2 } },
    axisTick: { show: true, inside: true, length: 8, customValues: ticks, lineStyle: { color: '#000', width: 1.5 } },
    axisLabel: { show: labels, customValues: ticks, formatter: v => v.toFixed(2), color: '#000', fontFamily: TICKFONT, fontSize: 22, margin: 5 },
    splitLine: { show: false },
    name: labels ? 'Normalized Flux' : '', nameLocation: 'middle', nameRotate: 90, nameGap: 59,
    nameTextStyle: { color: '#000', fontFamily: TICKFONT, fontSize: 26 }
  };
}

function errSeries(xi, yi, pts, err) {
  return {
    type: 'custom', xAxisIndex: xi, yAxisIndex: yi, clip: true, z: 2,
    data: pts.map(p => [p[0], p[1], err]),
    encode: { x: 0, y: 1 },
    renderItem: function (params, api) {
      const x = api.value(0), y = api.value(1), e = api.value(2);
      const a = api.coord([x, y + e]), b = api.coord([x, y - e]);
      const cw = 6;
      return { type: 'group', children: [
        { type: 'line', shape: { x1: a[0], y1: a[1], x2: b[0], y2: b[1] }, style: { stroke: '#000', lineWidth: 2 } },
        { type: 'line', shape: { x1: a[0] - cw, y1: a[1], x2: a[0] + cw, y2: a[1] }, style: { stroke: '#333', lineWidth: 1.6 } },
        { type: 'line', shape: { x1: b[0] - cw, y1: b[1], x2: b[0] + cw, y2: b[1] }, style: { stroke: '#333', lineWidth: 1.6 } }
      ] };
    }
  };
}
function ptSeries(xi, yi, pts, size) {
  return { type: 'scatter', xAxisIndex: xi, yAxisIndex: yi, data: pts, symbol: 'circle', symbolSize: size,
    itemStyle: { color: '#000' }, z: 3, silent: true, large: false };
}
function lineSeries(xi, yi, pts, color, w) {
  return { type: 'line', xAxisIndex: xi, yAxisIndex: yi, data: pts, showSymbol: false, symbol: 'none',
    lineStyle: { color: color, width: w }, z: 5, silent: true };
}

const series = [];
// panel 1
[[raw36, raw36b], [raw45, raw45b], [raw58, raw58b], [raw80, raw80b]].forEach(p =>
  series.push(ptSeries(0, 0, toPts(p[0].concat(p[1])), 2.5)));
[modelRaw36, modelRaw45, modelRaw58, modelRaw80].forEach((m, i) => series.push(lineSeries(0, 0, m, COLORS[i], 4)));
// panel 2
[binned36, binned45, binned58, binned80].forEach((b, i) => {
  series.push(errSeries(2, 1, b, binnedErr[i]));
  series.push(ptSeries(2, 1, b, 9));
});
[noEcl36, noEcl45, noEcl58, noEcl80].forEach(m => series.push(lineSeries(2, 1, m, '#000', 3.2)));
[modelBin36, modelBin45, modelBin58, modelBin80].forEach((m, i) => series.push(lineSeries(2, 1, m, COLORS[i], 4)));
// panel 3
[norm36, norm45, norm58, norm80].forEach((b, i) => {
  series.push(errSeries(4, 3, b, normErr[i]));
  series.push(ptSeries(4, 3, b, 9));
});
[modelNorm36, modelNorm45, modelNorm58, modelNorm80].forEach((m, i) => series.push(lineSeries(4, 3, m, COLORS[i], 4)));

// graphics: banner, titles, legends
const G = [];
G.push({ type: 'rect', z: 200, shape: { x: 0, y: 0, width: 2114, height: 13 },
  style: { fill: { type: 'linear', x: 0, y: 0, x2: 1, y2: 0, colorStops: [
    { offset: 0, color: '#939fa9' }, { offset: 0.35, color: '#6f8198' }, { offset: 0.6, color: '#3d5a8c' }, { offset: 1, color: '#10317c' }] } } });
G.push({ type: 'rect', z: 201, shape: { x: 1966, y: 0, width: 4, height: 10 }, style: { fill: '#fff' } });
const titleX = [355, 1017, 1700];
titles.forEach((t, i) => G.push({ type: 'text', z: 150, style: { text: t, x: titleX[i], y: 82,
  font: '48px "Liberation Sans", Arial, sans-serif', fill: '#000', align: 'center', verticalAlign: 'middle',
  textAlign: 'center', textVerticalAlign: 'middle' } }));

function legend(boxX, boxY, boxW, boxH, lineX, textX, rowY0, openRight) {
  if (openRight) {
    G.push({ type: 'polyline', z: 150, shape: { points: [[boxX + boxW, boxY], [boxX, boxY], [boxX, boxY + boxH], [boxX + boxW, boxY + boxH]] },
      style: { stroke: '#000', lineWidth: 1.8, fill: null } });
  } else {
    G.push({ type: 'rect', z: 150, shape: { x: boxX, y: boxY, width: boxW, height: boxH },
      style: { stroke: '#000', lineWidth: 1.8, fill: '#fff' } });
  }
  bandNames.forEach((n, i) => {
    const y = rowY0 + i * 38;
    G.push({ type: 'line', z: 151, shape: { x1: lineX, y1: y, x2: lineX + 40, y2: y }, style: { stroke: COLORS[i], lineWidth: 4 } });
    // in the cut-off legend only the start of each label is visible
    G.push({ type: 'text', z: 151, style: { text: openRight ? n.charAt(0) : n, x: textX, y: y, font: '27px "DejaVu Sans"', fill: '#000',
      align: 'left', verticalAlign: 'middle', textAlign: 'left', textVerticalAlign: 'middle' } });
  });
}
legend(562, 35, 91, 156, 579, 645, 56, true);
G.push({ type: 'rect', z: 160, shape: { x: 654, y: 28, width: 18, height: 172 }, style: { fill: '#fff' } });
legend(749, 1131, 134, 157, 767, 831, 1153, false);
legend(1946, 35, 134, 156, 1963, 2028, 56, false);
// right part of panel 2's last tick label is hidden under panel 3's area in the original
G.push({ type: 'rect', z: 160, shape: { x: 1382, y: 1303, width: 20, height: 30 }, style: { fill: '#fff' } });

const option = {
  animation: false,
  backgroundColor: '#fff',
  grid: [
    { left: 85, top: 22, width: 568, height: 1278 },
    { left: 736, top: 22, width: 624, height: 1278 },
    { left: 1467, top: 22, width: 624, height: 1278 }
  ],
  xAxis: [xAx(0, 0.623, 'bottom', true, [0, 0, 0, 56]), xAx(0, 0.623, 'top', false),
          xAx(1, 0.65, 'bottom', true), xAx(1, 0.65, 'top', false),
          xAx(2, 0.65, 'bottom', true), xAx(2, 0.65, 'top', false)],
  yAxis: [yAx(0, yTicksRaw, 'left', true),
          yAx(1, yTicksBinned, 'left', true), yAx(1, yTicksBinned, 'right', false),
          yAx(2, yTicksNorm, 'left', true), yAx(2, yTicksNorm, 'right', false)],
  series: series,
  graphic: { elements: G }
};
const chart = echarts.init(document.getElementById('c'), null, { renderer: 'canvas' });
chart.setOption(option);
</script></body></html>
